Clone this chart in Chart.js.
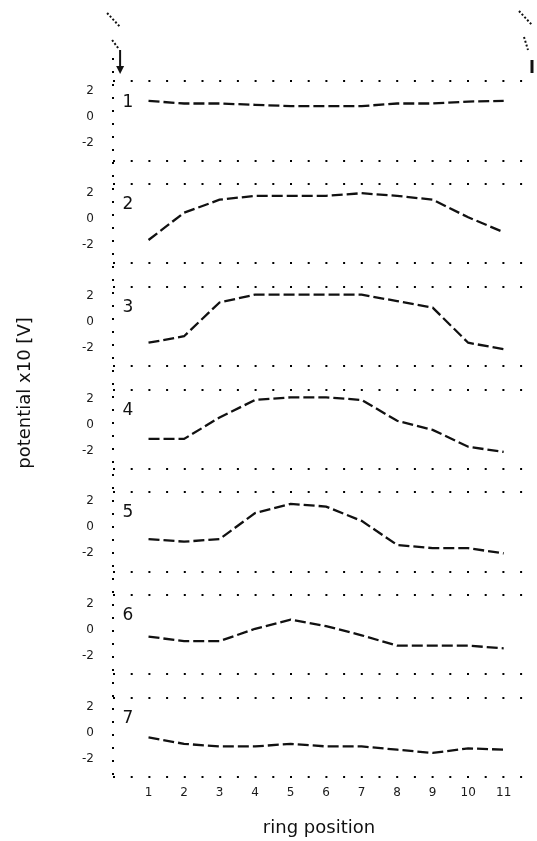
<!DOCTYPE html>
<html>
<head>
<meta charset="utf-8">
<title>potential vs ring position</title>
<script src="https://cdn.jsdelivr.net/npm/chart.js@4.4.0/dist/chart.umd.min.js"></script>
<style>
  html, body { margin: 0; padding: 0; background: #fff; }
  #wrap { width: 537px; height: 841px; position: relative; }
</style>
</head>
<body>
<div id="wrap"><canvas id="plot"></canvas></div>
<script>
// ring positions along the x axis
const ringPos = [1, 2, 3, 4, 5, 6, 7, 8, 9, 10, 11];
const xTicks = [1, 2, 3, 4, 5, 6, 7, 8, 9, 10, 11];
const yTicks = [-2, 0, 2];
const panelNames = ['1', '2', '3', '4', '5', '6', '7'];

// potential (x10 V) for each panel
const panel1 = [1.2, 1.0, 1.0, 0.9, 0.8, 0.8, 0.8, 1.0, 1.0, 1.15, 1.2];
const panel2 = [-1.6, 0.5, 1.5, 1.8, 1.8, 1.8, 2.0, 1.8, 1.5, 0.15, -1.0];
const panel3 = [-1.6, -1.1, 1.5, 2.1, 2.1, 2.1, 2.1, 1.6, 1.1, -1.6, -2.1];
const panel4 = [-1.1, -1.1, 0.55, 1.9, 2.1, 2.1, 1.9, 0.3, -0.4, -1.7, -2.1];
const panel5 = [-0.9, -1.1, -0.9, 1.1, 1.8, 1.6, 0.5, -1.35, -1.6, -1.6, -2.0];
const panel6 = [-0.5, -0.85, -0.85, 0.1, 0.8, 0.3, -0.4, -1.2, -1.2, -1.2, -1.4];
const panel7 = [-0.35, -0.85, -1.05, -1.05, -0.85, -1.05, -1.05, -1.3, -1.55, -1.2, -1.3];

const panels = [panel1, panel2, panel3, panel4, panel5, panel6, panel7];

const yMin = -3.4;
const yMax = 4.5;
const frameTop = 2.7;   // dotted row at the top of each panel
const font = 'DejaVu Sans';

function panelAxis(i) {
  return {
    type: 'linear',
    position: 'left',
    stack: 'panels',
    stackWeight: 1,
    weight: panels.length - i,
    min: yMin,
    max: yMax,
    afterBuildTicks: axis => {
      axis.ticks = [yMin].concat(yTicks, [frameTop]).map(v => ({ value: v }));
    },
    afterFit: axis => { axis.width = 113; },
    ticks: {
      autoSkip: false,
      padding: 19,
      color: '#1a1a1a',
      font: { family: font, size: 12 },
      callback: v => (yTicks.includes(v) ? String(v) : '')
    },
    grid: {
      drawTicks: false,
      lineWidth: 2,
      color: ctx => (ctx.tick && (ctx.tick.value === yMin || ctx.tick.value === frameTop)) ? '#000' : 'rgba(0,0,0,0)'
    },
    border: { display: false, dash: [2, 15.7] }
  };
}

const scales = {
  x: {
    type: 'linear',
    min: 0,
    max: 11.6,
    // tick 0 only carries the dotted left edge
    afterBuildTicks: axis => { axis.ticks = [0].concat(xTicks).map(v => ({ value: v })); },
    afterFit: axis => { axis.height = 64; },
    grid: {
      drawTicks: false,
      lineWidth: 2,
      color: ctx => (ctx.tick && ctx.tick.value === 0) ? '#000' : 'rgba(0,0,0,0)'
    },
    border: { display: false, dash: [2, 11] },
    ticks: {
      autoSkip: false,
      color: '#1a1a1a',
      padding: 9,
      font: { family: font, size: 12 },
      callback: v => (xTicks.includes(v) ? String(v) : '')
    },
    title: { display: true, text: 'ring position', color: '#111', padding: { top: 4, bottom: 2 }, font: { family: font, size: 18 } }
  }
};
panels.forEach((p, i) => { scales['y' + (i + 1)] = panelAxis(i); });

const datasets = panels.map((p, i) => ({
  label: 'panel ' + panelNames[i],
  yAxisID: 'y' + (i + 1),
  data: ringPos.map((x, k) => ({ x: x, y: p[k] })),
  borderColor: '#111',
  borderWidth: 2.3,
  borderDash: [11, 4],
  pointRadius: 0,
  tension: 0,
  fill: false
}));

// panel numbers, y title and the two arrows at the top
const decorations = {
  id: 'decorations',
  afterDraw(chart) {
    const ctx = chart.ctx;
    const xs = chart.scales.x;
    ctx.save();
    ctx.fillStyle = '#111';
    ctx.font = '17px ' + font;
    ctx.textAlign = 'center';
    ctx.textBaseline = 'middle';
    panelNames.forEach((name, i) => {
      const ys = chart.scales['y' + (i + 1)];
      ctx.fillText(name, xs.getPixelForValue(0.42), ys.getPixelForValue(1.1));
    });

    ctx.font = '18px ' + font;
    ctx.translate(25, 393);
    ctx.rotate(-Math.PI / 2);
    ctx.fillText('potential x10 [V]', 0, 0);
    ctx.restore();

    ctx.save();
    ctx.strokeStyle = '#111';
    ctx.fillStyle = '#111';
    ctx.lineWidth = 2;
    const ax = xs.getPixelForValue(0.2);
    ctx.setLineDash([2, 2]);
    ctx.beginPath();
    ctx.moveTo(ax - 13, 13); ctx.lineTo(ax, 27);
    ctx.moveTo(ax - 8, 40); ctx.lineTo(ax - 2, 48);
    ctx.stroke();
    ctx.setLineDash([]);
    ctx.beginPath();
    ctx.moveTo(ax, 50); ctx.lineTo(ax, 70);
    ctx.stroke();
    ctx.beginPath();
    ctx.moveTo(ax - 4, 66); ctx.lineTo(ax + 4, 66); ctx.lineTo(ax, 74);
    ctx.closePath();
    ctx.fill();

    const bx = chart.width - 5;
    ctx.setLineDash([2, 2]);
    ctx.beginPath();
    ctx.moveTo(bx - 13, 11); ctx.lineTo(bx, 25);
    ctx.moveTo(bx - 8, 37); ctx.lineTo(bx - 4, 50);
    ctx.stroke();
    ctx.setLineDash([]);
    ctx.lineWidth = 3;
    ctx.beginPath();
    ctx.moveTo(bx, 60); ctx.lineTo(bx, 73);
    ctx.stroke();
    ctx.restore();
  }
};

new Chart(document.getElementById('plot'), {
  type: 'line',
  data: { datasets: datasets },
  options: {
    responsive: true,
    maintainAspectRatio: false,
    animation: false,
    layout: { padding: { left: 0, right: 12, top: 58, bottom: 0 } },
    plugins: {
      legend: { display: false },
      tooltip: { enabled: false }
    },
    scales: scales
  },
  plugins: [decorations]
});
</script>
</body>
</html>
